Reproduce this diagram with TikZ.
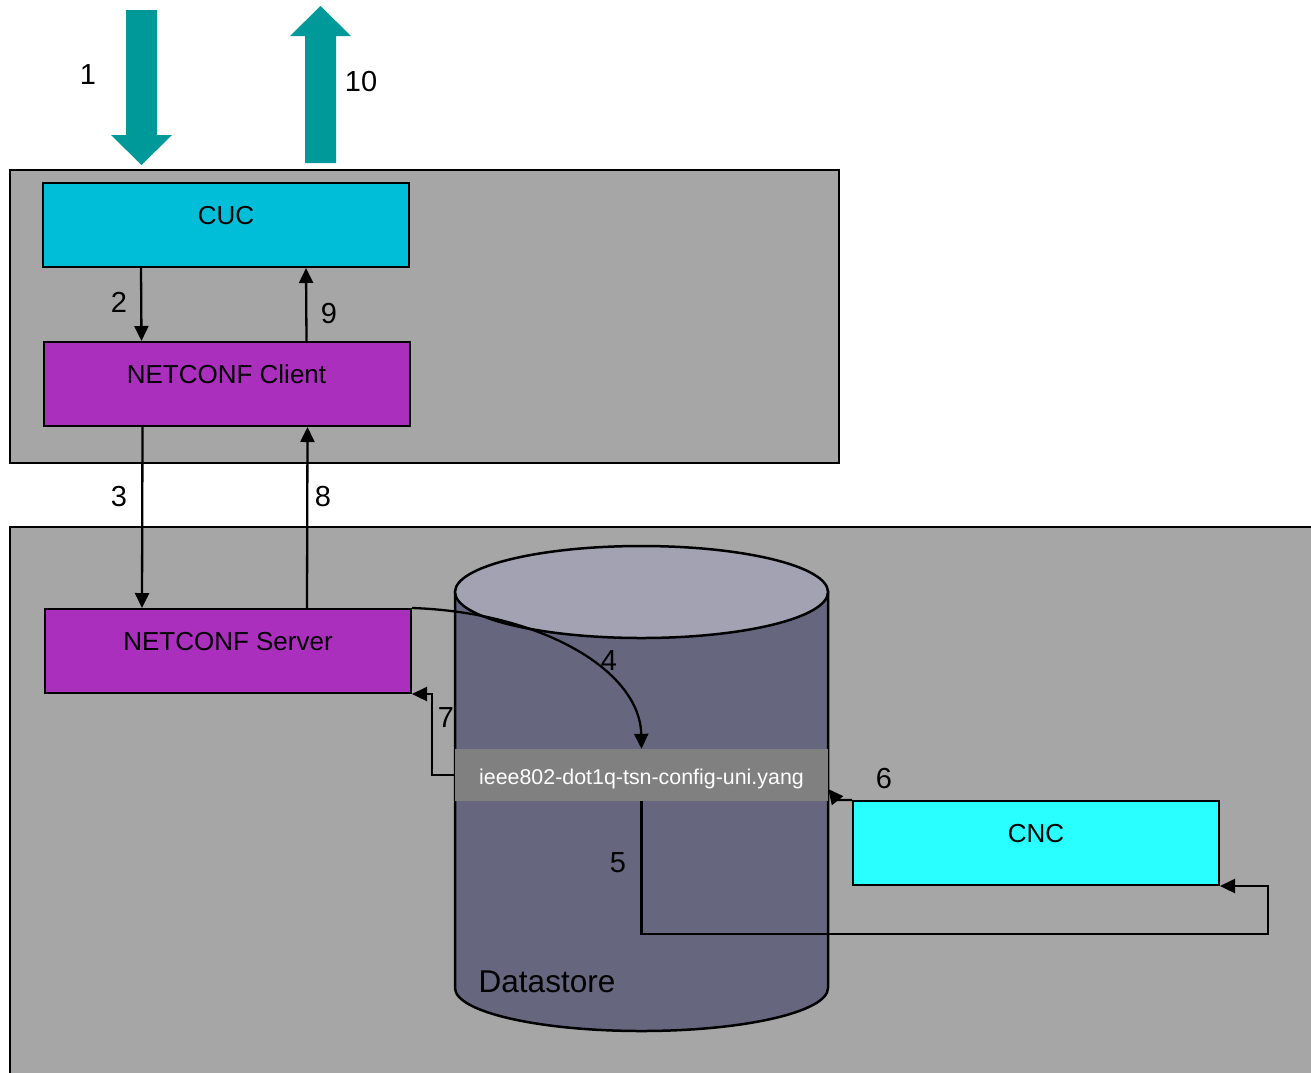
\documentclass[tikz,border=0pt]{standalone}
\usepackage{fontspec}
\setmainfont{Liberation Sans}
\usetikzlibrary{arrows.meta}

\definecolor{panelgray}{HTML}{A6A6A6}
\definecolor{cuccyan}{HTML}{00BED8}
\definecolor{ncpurple}{HTML}{AA2FBD}
\definecolor{cncaqua}{HTML}{29FFFF}
\definecolor{flowteal}{HTML}{009999}
\definecolor{dsbody}{HTML}{66667F}
\definecolor{dstop}{HTML}{A3A2B3}
\definecolor{yanggray}{HTML}{808080}

\tikzset{
  panel/.style={draw=black, line width=1.6pt, fill=panelgray},
  block/.style={draw=black, line width=2pt, minimum width=366pt, minimum height=84pt,
    text depth=20pt, font=\fontsize{26}{30}\selectfont},
  conn/.style={line width=2.3pt, -{Triangle[length=15pt,width=14pt]}},
  num/.style={inner sep=2pt, font=\fontsize{29}{33}\selectfont},
}

\begin{document}
\begin{tikzpicture}[x=1pt, y=-1pt]
    \useasboundingbox (0,0) rectangle (1311,1072);

    % the two hosts
    \draw[panel] (10,170) rectangle (839,463);
    \begin{scope}
        \clip (0,0) rectangle (1311,1072);
        \draw[panel] (10,527) rectangle (1330,1090);
    \end{scope}

    % user side in and out
    \fill[flowteal] (126,10) -- (157,10) -- (157,135) -- (172,135) -- (141.5,165) -- (111,135) -- (126,135) -- cycle;
    \fill[flowteal] (305,163) -- (336,163) -- (336,36) -- (351,36) -- (320.5,6) -- (290,36) -- (305,36) -- cycle;
    \node[num] (n1) at (88,75) {1};
    \node[num] (n10) at (361,82) {10};

    % datastore cylinder
    \filldraw[fill=dsbody, line width=2.5pt] (455,592) -- (455,988)
        arc[start angle=180, end angle=360, x radius=186.5pt, y radius=43pt] -- (828,592) -- cycle;
    \filldraw[fill=dstop, line width=2.5pt] (641.5,592) ellipse [x radius=186.5pt, y radius=46pt];
    \node[font=\fontsize{31.5}{36}\selectfont] (store) at (547,982) {Datastore};

    \node[fill=yanggray, text=white, minimum width=373pt, minimum height=52pt,
        text height=19pt, text depth=0pt,
        font=\fontsize{21.4}{25}\selectfont] (yang) at (641.5,775) {ieee802-dot1q-tsn-config-uni.yang};

    % blocks
    \node[block, fill=cuccyan] (cuc) at (226,225) {CUC};
    \node[block, fill=ncpurple] (client) at (226.5,384) {NETCONF Client};
    \node[block, fill=ncpurple] (server) at (228,651) {NETCONF Server};
    \node[block, fill=cncaqua] (cnc) at (1036,843) {CNC};

    % message flow
    \draw[conn] ([xshift=99pt]cuc.south west) -- ([xshift=99pt]client.north west);
    \draw[conn] ([xshift=100pt]client.south west) -- ([xshift=98pt]server.north west);
    \draw[conn] (server.north east) .. controls (540,612) and (640,670) .. (yang.north);
    \coordinate (turn5) at (1268,934);
    \draw[conn] (yang.south) |- (turn5) |- (cnc.south east);
    \draw[conn] (cnc.north west) -- ++(-15,0) -- ([yshift=-14pt]yang.east);
    \draw[conn] (yang.west) -- ++(-23,0) |- (server.south east);
    \draw[conn] ([xshift=263pt]server.north west) -- ([xshift=265pt]client.south west);
    \draw[conn] ([xshift=264pt]client.north west) -- ([xshift=264pt]cuc.south west);

    \node[num] (n2) at (119,302) {2};
    \node[num] (n3) at (119,497) {3};
    \node[num] (n4) at (609,661) {4};
    \node[num] (n5) at (618,863) {5};
    \node[num] (n6) at (884,779) {6};
    \node[num] (n7) at (446,718) {7};
    \node[num] (n8) at (323,497) {8};
    \node[num] (n9) at (329,314) {9};
\end{tikzpicture}
\end{document}
